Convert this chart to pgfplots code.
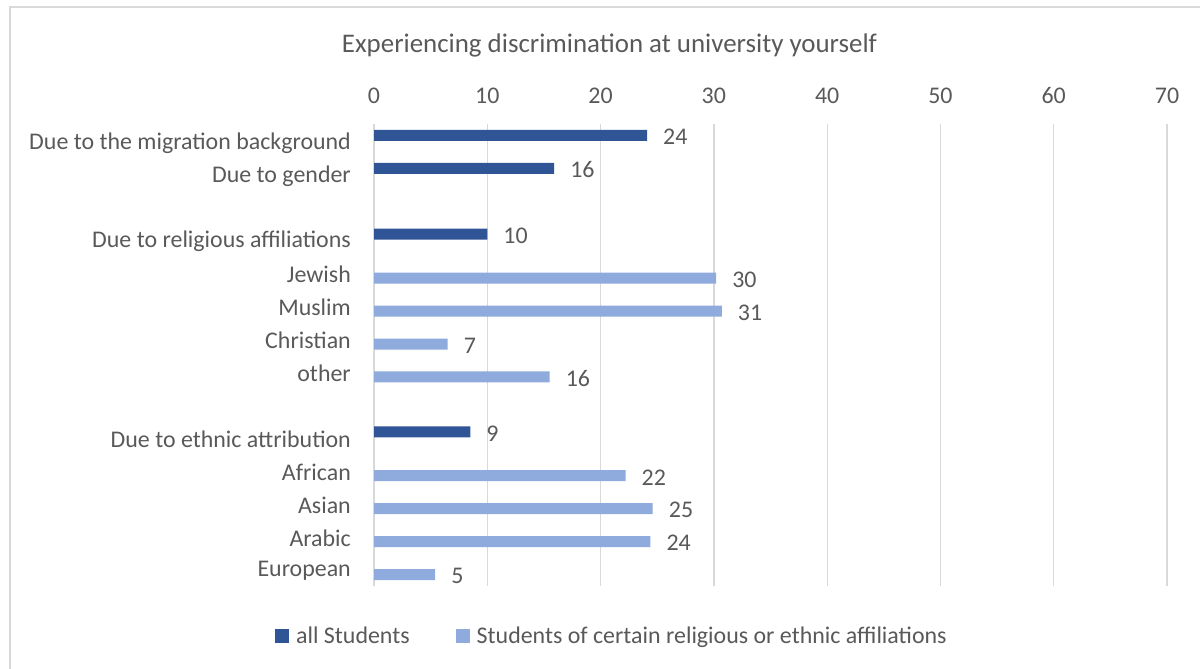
\documentclass[border=0pt]{standalone}
\usepackage{fontspec}
\setmainfont{Carlito}
\usepackage{pgfplots}
\usepackage{pgfplotstable}
\pgfplotsset{compat=1.18}
\definecolor{darkbar}{HTML}{2F5597}
\definecolor{lightbar}{HTML}{8FAADC}
\definecolor{txt}{HTML}{595959}
\definecolor{gridc}{HTML}{D9D9D9}

\pgfplotstableread{
y v lab
0 24.1 24
1 15.9 16
3 10.0 10
9 8.5 9
}\allstud
\pgfplotstableread{
y v lab
4 30.2 30
5 30.7 31
6 6.5 7
7 15.5 16
10 22.2 22
11 24.6 25
12 24.4 24
13 5.4 5
}\certain

\begin{document}
\begin{tikzpicture}[x=1bp,y=1bp]
\path[use as bounding box] (0,0) rectangle (1200,669);
\begin{scope}
\clip (0,0) rectangle (1200,669);
\draw[gridc, line width=1.3bp] (10,-10) -- (10,662) -- (1210,662);
\end{scope}
\node[txt, font=\fontsize{27}{32}\selectfont] at (609.5,624) {Experiencing discrimination at university yourself};
\begin{axis}[
  at={(374bp,83.5bp)}, anchor=south west,
  scale only axis, width=793bp, height=461bp,
  xbar, bar width=11bp,
  xmin=0, xmax=70, ymin=-0.5, ymax=13.5, y dir=reverse,
  xtick={0,10,...,70}, xticklabel pos=upper,
  ytick={0,1,3,4,5,6,7,9,10,11,12,13},
  yticklabels={Due to the migration background, Due to gender, Due to religious affiliations, Jewish, Muslim, Christian, other, Due to ethnic attribution, African, Asian, Arabic, European},
  axis line style={draw=none},
  major tick length=0pt,
  xmajorgrids, grid style={gridc, line width=1.3bp},
  /pgf/number format/assume math mode=true,
  xticklabel style={anchor=center, inner sep=0pt, yshift=28.5bp, text=txt, font=\fontsize{24}{28}\selectfont},
  yticklabel style={anchor=east, inner sep=0pt, xshift=-23bp, yshift=-2bp, text=txt, font=\fontsize{24}{28}\selectfont},
  legend style={at={(0.300,-0.1095)}, anchor=center, draw=none, legend columns=2, font=\fontsize{24}{28}\selectfont, text=txt,
    /tikz/every odd column/.append style={column sep=5bp},
    /tikz/every even column/.append style={column sep=44bp}},
  legend image code/.code={\fill[#1] (0bp,-7bp) rectangle (14bp,7bp);},
  nodes near coords, point meta=explicit symbolic,
  nodes near coords style={text=txt, anchor=west, inner sep=0pt, xshift=16bp, yshift=-1.5bp, font=\fontsize{24}{28}\selectfont},
]
\addplot[fill=darkbar, draw=none, bar shift=5.5bp] table[x=v, y=y, meta=lab] {\allstud};
\addplot[fill=lightbar, draw=none, bar shift=-5.5bp] table[x=v, y=y, meta=lab] {\certain};
\legend{all Students, Students of certain religious or ethnic affiliations}
\end{axis}
\end{tikzpicture}
\end{document}
